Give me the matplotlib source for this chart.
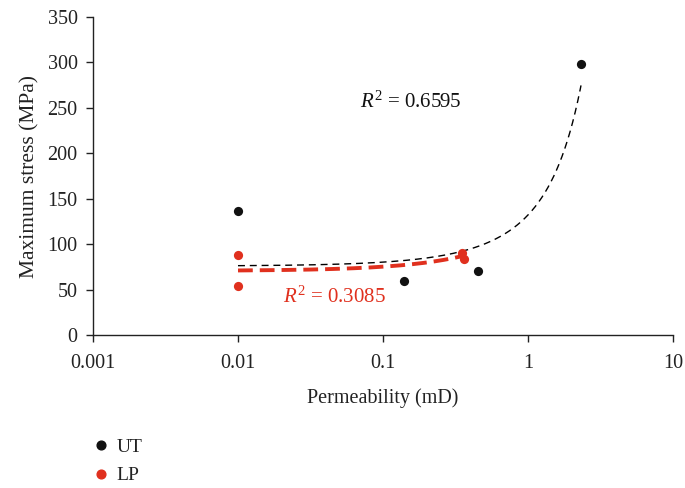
# permeability vs maximum stress, UT and LP samples with trendlines
import numpy as np
import matplotlib.pyplot as plt
from matplotlib.lines import Line2D

plt.rcParams['font.family'] = ['Liberation Serif', 'DejaVu Serif']
plt.rcParams['mathtext.fontset'] = 'custom'
plt.rcParams['mathtext.it'] = 'Liberation Serif:italic'
plt.rcParams['mathtext.rm'] = 'Liberation Serif'

ut_perm = [0.01, 0.14, 0.45, 2.32]
ut_stress = [136, 59, 70, 298]
lp_perm = [0.01, 0.01, 0.35, 0.36]
lp_stress = [88, 54, 90, 84]

x_ticks = [0.001, 0.01, 0.1, 1, 10]
x_ticklabels = ['0.001', '0.01', '0.1', '1', '10']
y_ticks = [0, 50, 100, 150, 200, 250, 300, 350]

ut_r2 = '0.6595'
lp_r2 = '0.3085'

red = '#e0301e'

fig = plt.figure(figsize=(6.85, 4.88), dpi=100)
ax = fig.add_axes([93 / 685, 1 - 335 / 488, 580 / 685, 318 / 488])

# exponential trendline for UT (fit on ln y, like a spreadsheet does)
b, ln_a = np.polyfit(ut_perm, np.log(ut_stress), 1)
xs = np.linspace(min(ut_perm), max(ut_perm), 400)
ax.plot(xs, np.exp(ln_a) * np.exp(b * xs), color='black', lw=1.0,
        dashes=(5, 3.5), zorder=2)

# linear trendline for LP
m, c = np.polyfit(lp_perm, lp_stress, 1)
xs2 = np.linspace(min(lp_perm), max(lp_perm), 200)
ax.plot(xs2, m * xs2 + c, color=red, lw=2.8, dashes=(3.8, 1.8), zorder=3)

ax.scatter(ut_perm, ut_stress, s=44, color='#111111', zorder=4, linewidths=0)
ax.scatter(lp_perm, lp_stress, s=44, color=red, zorder=4, linewidths=0)

ax.set_xscale('log')
ax.set_xlim(0.001, 10)
ax.set_ylim(0, 350)
ax.set_xticks(x_ticks)
ax.set_xticklabels(x_ticklabels)
ax.xaxis.set_minor_locator(plt.NullLocator())
ax.set_yticks(y_ticks)

for s in ['top', 'right']:
    ax.spines[s].set_visible(False)
for s in ['left', 'bottom']:
    ax.spines[s].set_linewidth(1.0)
    ax.spines[s].set_color('#222222')
ax.tick_params(axis='both', labelsize=14.5, length=5, width=1.0,
               color='#222222', labelcolor='#222222')
ax.tick_params(axis='x', pad=9)
ax.tick_params(axis='y', pad=6)

ax.set_xlabel('Permeability (mD)', fontsize=14.5, color='#222222', labelpad=11)
ax.set_ylabel('Maximum stress (MPa)', fontsize=15.5, color='#222222', labelpad=6)

ax.text(0.154, 256, r'$R^2$ = ' + ut_r2, fontsize=15, color='#111111',
        ha='center', va='center')
ax.text(0.046, 42, r'$R^2$ = ' + lp_r2, fontsize=15, color=red,
        ha='center', va='center')

handles = [
    Line2D([], [], marker='o', ls='none', color='#111111', markersize=6.3, label='UT'),
    Line2D([], [], marker='o', ls='none', color=red, markersize=6.3, label='LP'),
]
fig.legend(handles=handles, loc='upper left', bbox_to_anchor=(74 / 685, 1 - 421 / 488),
           frameon=False, fontsize=14, handletextpad=0.3, labelspacing=0.55,
           handlelength=1.0, labelcolor='#222222')

plt.savefig('out.png', dpi=100)
